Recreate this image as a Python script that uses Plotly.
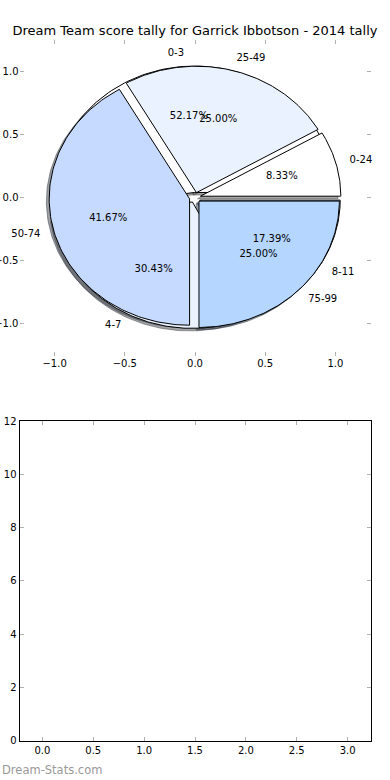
import numpy as np
import plotly.graph_objects as go

# ---------------- data ----------------
title_text = "Dream Team score tally for Garrick Ibbotson - 2014 tally"
score_labels = ["0-24", "25-49", "50-74", "75-99"]
score_counts = [1, 3, 5, 3]
tally_labels = ["0-3", "4-7", "8-11"]
tally_counts = [12, 7, 4]
slice_colors = ["#ffffff", "#eaf2ff", "#c6d9ff", "#b4d6ff"]
watermark = "Dream-Stats.com"

pie_ticks = [-1.0, -0.5, 0.0, 0.5, 1.0]
bottom_xticks = [0.0, 0.5, 1.0, 1.5, 2.0, 2.5, 3.0]
bottom_yticks = [0, 2, 4, 6, 8, 10, 12]

# ---------------- style ----------------
EXPLODE = 0.04
SHADOW = (-0.02, -0.02)
PCT_DIST = 0.6
LBL_DIST = 1.1
FONT = "DejaVu Sans"


def wedges(values):
    vals = np.asarray(values, dtype=float)
    frac = vals / vals.sum()
    t = 0.0
    out = []
    for f in frac:
        t1, t2 = 360 * t, 360 * (t + f)
        tm = np.deg2rad((t1 + t2) / 2)
        cx, cy = EXPLODE * np.cos(tm), EXPLODE * np.sin(tm)
        out.append((t1, t2, tm, cx, cy, f))
        t += f
    return out


def poly(t1, t2, cx, cy, dx=0.0, dy=0.0):
    th = np.deg2rad(np.linspace(t1, t2, 120))
    xs = np.concatenate([[cx], cx + np.cos(th), [cx]]) + dx
    ys = np.concatenate([[cy], cy + np.sin(th), [cy]]) + dy
    return xs, ys


def shade(hexcol):
    h = hexcol.lstrip("#")
    r, g, b = (int(h[i:i + 2], 16) for i in (0, 2, 4))
    return f"rgba({int(0.3 * r)},{int(0.3 * g)},{int(0.3 * b)},0.5)"


fig = go.Figure()

pies = [(tally_labels, tally_counts), (score_labels, score_counts)]

# shadows (below all wedges)
for labels, counts in pies:
    for i, (t1, t2, tm, cx, cy, f) in enumerate(wedges(counts)):
        xs, ys = poly(t1, t2, cx, cy, *SHADOW)
        col = shade(slice_colors[i % len(slice_colors)])
        fig.add_trace(go.Scatter(x=xs, y=ys, mode="lines", fill="toself",
                                 fillcolor=col, line=dict(color=col, width=1),
                                 hoverinfo="skip", showlegend=False))

# wedges
for labels, counts in pies:
    for i, (t1, t2, tm, cx, cy, f) in enumerate(wedges(counts)):
        xs, ys = poly(t1, t2, cx, cy)
        fig.add_trace(go.Scatter(x=xs, y=ys, mode="lines", fill="toself",
                                 fillcolor=slice_colors[i % len(slice_colors)],
                                 line=dict(color="black", width=1),
                                 hoverinfo="skip", showlegend=False))

# texts
for labels, counts in pies:
    ws = wedges(counts)
    px = [cx + PCT_DIST * np.cos(tm) for (_, _, tm, cx, cy, f) in ws]
    py = [cy + PCT_DIST * np.sin(tm) for (_, _, tm, cx, cy, f) in ws]
    pt = ["%.2f%%" % (100 * f) for (_, _, tm, cx, cy, f) in ws]
    fig.add_trace(go.Scatter(x=px, y=py, mode="text", text=pt,
                             textposition="middle center", cliponaxis=False,
                             textfont=dict(family=FONT, size=10, color="black"),
                             hoverinfo="skip", showlegend=False))
    lx = [cx + LBL_DIST * np.cos(tm) for (_, _, tm, cx, cy, f) in ws]
    ly = [cy + LBL_DIST * np.sin(tm) for (_, _, tm, cx, cy, f) in ws]
    pos = ["middle right" if x > 0 else "middle left" for x in lx]
    fig.add_trace(go.Scatter(x=lx, y=ly, mode="text", text=labels,
                             textposition=pos, cliponaxis=False,
                             textfont=dict(family=FONT, size=10, color="black"),
                             hoverinfo="skip", showlegend=False))

# empty bottom axes
fig.add_trace(go.Scatter(x=[], y=[], xaxis="x2", yaxis="y2",
                         mode="markers", showlegend=False))

W, H = 390, 780
tickfont = dict(family=FONT, size=10, color="black")
common = dict(ticks="inside", ticklen=4, tickwidth=1, tickcolor="#b0b0b0",
              showgrid=False, zeroline=False, tickfont=tickfont,
              automargin=False)

fig.update_layout(
    width=W, height=H,
    margin=dict(l=0, r=0, t=0, b=0, autoexpand=False),
    paper_bgcolor="white", plot_bgcolor="white",
    showlegend=False,
    title=dict(text=title_text, x=0.5, xanchor="center",
               y=1 - 30 / H, yanchor="middle", automargin=False,
               font=dict(family=FONT, size=13, color="black")),
    xaxis=dict(domain=[19.5 / W, 370.5 / W], range=[-1.25, 1.25],
               tickvals=pie_ticks, tickformat=".1f", anchor="y",
               showline=False, mirror="ticks", **common),
    yaxis=dict(domain=[(H - 355.5) / H, (H - 39.5) / H], range=[-1.25, 1.25],
               tickvals=pie_ticks, tickformat=".1f", anchor="x",
               showline=False, mirror="ticks", **common),
    xaxis2=dict(domain=[19.5 / W, 370.5 / W], range=[-0.225, 3.225],
                tickvals=bottom_xticks, tickformat=".1f", anchor="y2",
                showline=True, linecolor="black", linewidth=1,
                mirror="ticks", **common),
    yaxis2=dict(domain=[(H - 740.5) / H, (H - 421) / H], range=[0, 12],
                tickvals=bottom_yticks, anchor="x2",
                showline=True, linecolor="black", linewidth=1,
                mirror="ticks", **common),
    annotations=[dict(text=watermark, xref="paper", yref="paper",
                      x=0, y=10 / H, xanchor="left", yanchor="middle",
                      showarrow=False,
                      font=dict(family=FONT, size=11.5, color="#999999"))],
)

fig.write_html("out.html",
               config={"displayModeBar": False},
               post_script="document.body.style.margin='0';"
                           "document.body.style.overflow='hidden';")
